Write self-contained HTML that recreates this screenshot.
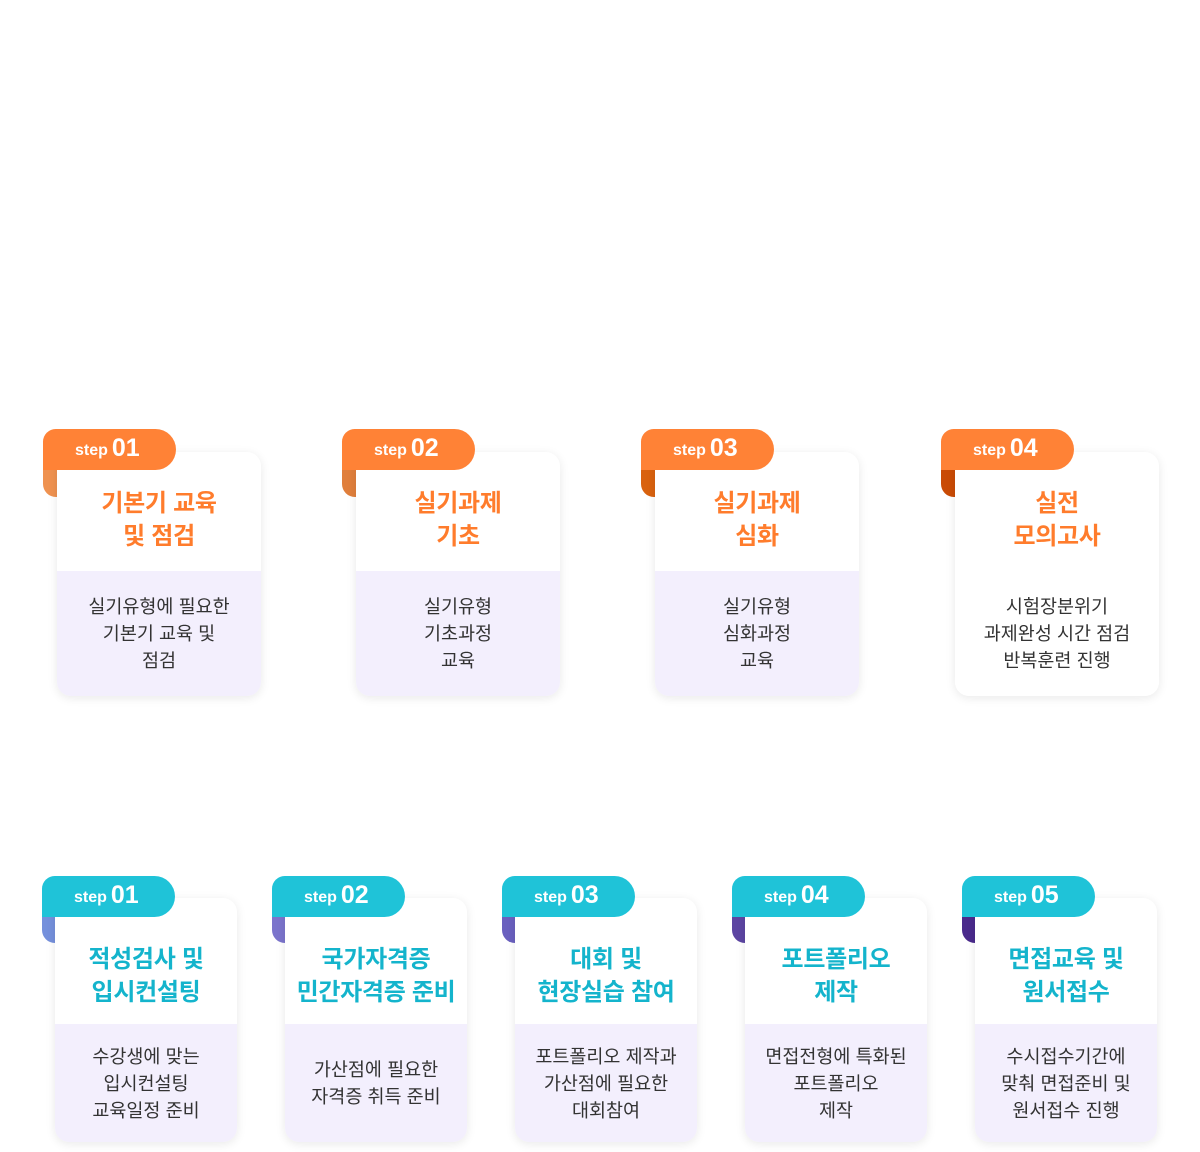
<!DOCTYPE html>
<html><head><meta charset="utf-8"><style>
*{margin:0;padding:0;box-sizing:border-box}
body{width:1200px;height:1152px;background:#fff;position:relative;overflow:hidden;font-family:"Liberation Sans","Noto Sans CJK KR",sans-serif}
.c{position:absolute;height:244px;background:#fff;border-radius:14px;box-shadow:0 2px 10px rgba(0,0,0,.09);z-index:2;overflow:hidden}
.fold{position:absolute;width:30px;height:45px;border-radius:0 0 0 13px;z-index:1}
.tab{position:absolute;width:133px;height:41px;border-radius:13px 21px 21px 0;z-index:3;color:#fff;font-weight:bold;padding-left:32px;white-space:nowrap}
.tab .s{font-size:16px;position:relative;top:-1px}
.tab .n{font-size:25px;line-height:38px;margin-left:4px}
.t{position:absolute;left:0;right:0;text-align:center;font-size:24px;font-weight:bold;line-height:33px;letter-spacing:-0.3px}
.b{position:absolute;left:0;right:0;bottom:0;background:#f3effd;display:flex;align-items:center;justify-content:center;text-align:center;font-size:18.5px;line-height:27px;color:#333;letter-spacing:0px;white-space:nowrap}
.o .tab{background:#ff8236}.o .t{color:#ff7c2c}
.y .tab{background:#1fc3d8}.y .t{color:#14b4cc}
</style></head><body>

<div class="o">
<div class="fold" style="left:43px;top:452px;background:#ef9250"></div>
<div class="tab" style="left:43px;top:429px"><span class="s">step</span><span class="n">01</span></div>
<div class="c" style="left:57px;top:452px;width:204px"><div class="t" style="top:35px">기본기 교육<br>및 점검</div><div class="b" style="height:125px">실기유형에 필요한<br>기본기 교육 및<br>점검</div></div>

<div class="fold" style="left:342px;top:452px;background:#e07f3c"></div>
<div class="tab" style="left:342px;top:429px"><span class="s">step</span><span class="n">02</span></div>
<div class="c" style="left:356px;top:452px;width:204px"><div class="t" style="top:35px">실기과제<br>기초</div><div class="b" style="height:125px">실기유형<br>기초과정<br>교육</div></div>

<div class="fold" style="left:641px;top:452px;background:#d9620f"></div>
<div class="tab" style="left:641px;top:429px"><span class="s">step</span><span class="n">03</span></div>
<div class="c" style="left:655px;top:452px;width:204px"><div class="t" style="top:35px">실기과제<br>심화</div><div class="b" style="height:125px">실기유형<br>심화과정<br>교육</div></div>

<div class="fold" style="left:941px;top:452px;background:#c94b06"></div>
<div class="tab" style="left:941px;top:429px"><span class="s">step</span><span class="n">04</span></div>
<div class="c" style="left:955px;top:452px;width:204px"><div class="t" style="top:35px">실전<br>모의고사</div><div class="b" style="height:125px;background:#fff">시험장분위기<br>과제완성 시간 점검<br>반복훈련 진행</div></div>
</div>

<div class="y">
<div class="fold" style="left:42px;top:898px;background:#7590dc"></div>
<div class="tab" style="left:42px;top:876px"><span class="s">step</span><span class="n">01</span></div>
<div class="c" style="left:55px;top:898px;width:182px"><div class="t" style="top:45px">적성검사 및<br>입시컨설팅</div><div class="b" style="height:118px">수강생에 맞는<br>입시컨설팅<br>교육일정 준비</div></div>

<div class="fold" style="left:272px;top:898px;background:#7b74cc"></div>
<div class="tab" style="left:272px;top:876px"><span class="s">step</span><span class="n">02</span></div>
<div class="c" style="left:285px;top:898px;width:182px"><div class="t" style="top:45px">국가자격증<br>민간자격증 준비</div><div class="b" style="height:118px">가산점에 필요한<br>자격증 취득 준비</div></div>

<div class="fold" style="left:502px;top:898px;background:#6a60bf"></div>
<div class="tab" style="left:502px;top:876px"><span class="s">step</span><span class="n">03</span></div>
<div class="c" style="left:515px;top:898px;width:182px"><div class="t" style="top:45px">대회 및<br>현장실습 참여</div><div class="b" style="height:118px">포트폴리오 제작과<br>가산점에 필요한<br>대회참여</div></div>

<div class="fold" style="left:732px;top:898px;background:#5c45a2"></div>
<div class="tab" style="left:732px;top:876px"><span class="s">step</span><span class="n">04</span></div>
<div class="c" style="left:745px;top:898px;width:182px"><div class="t" style="top:45px">포트폴리오<br>제작</div><div class="b" style="height:118px">면접전형에 특화된<br>포트폴리오<br>제작</div></div>

<div class="fold" style="left:962px;top:898px;background:#4a2a8c"></div>
<div class="tab" style="left:962px;top:876px"><span class="s">step</span><span class="n">05</span></div>
<div class="c" style="left:975px;top:898px;width:182px"><div class="t" style="top:45px">면접교육 및<br>원서접수</div><div class="b" style="height:118px">수시접수기간에<br>맞춰 면접준비 및<br>원서접수 진행</div></div>
</div>
</body></html>
